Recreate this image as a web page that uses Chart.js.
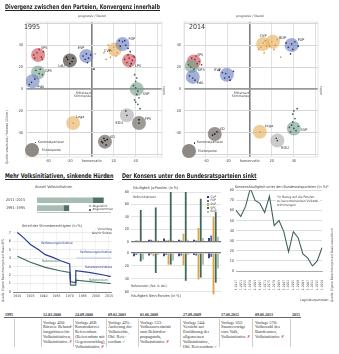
<!DOCTYPE html>
<html><head><meta charset="utf-8">
<script src="https://cdn.jsdelivr.net/npm/chart.js@4/dist/chart.umd.min.js"></script>
<style>
html,body{margin:0;padding:0;background:#fff;}
body{width:339px;height:354px;position:relative;overflow:hidden;font-family:"Liberation Sans Narrow","DejaVu Sans Condensed","Roboto Condensed",Roboto,sans-serif;color:#333;}
canvas{position:absolute;}
.t{position:absolute;white-space:nowrap;line-height:1;}
.title{font-size:6.6px;font-weight:bold;color:#222;text-decoration:underline;text-underline-offset:1px;text-decoration-thickness:0.6px;transform-origin:0 0;transform:scaleX(0.82);}
.s{font-size:3.7px;color:#444;}
.rot{transform-origin:0 0;transform:rotate(-90deg);}
.tl{position:absolute;font-family:"Liberation Serif","DejaVu Serif",serif;font-size:4.3px;line-height:4.9px;color:#333;white-space:nowrap;}
.tld{position:absolute;font-family:"Liberation Serif","DejaVu Serif",serif;font-size:4px;font-weight:bold;color:#333;white-space:nowrap;}
.vs{position:absolute;width:0.6px;background:#ccc;}
.no{color:#d42020;}
.ok{color:#3a9a3a;}
.yr{position:absolute;font-size:7px;color:#333;}
</style></head><body>

<canvas id="m1" width="165" height="162" style="left:5px;top:10px"></canvas>
<canvas id="m2" width="165" height="162" style="left:165px;top:10px"></canvas>
<canvas id="cA" width="109" height="26" style="left:6px;top:192px"></canvas>
<canvas id="cB" width="113" height="80" style="left:2px;top:224px"></canvas>
<canvas id="cC1" width="108" height="60" style="left:118px;top:186px"></canvas>
<canvas id="cC2" width="108" height="56" style="left:118px;top:244px"></canvas>
<canvas id="cD" width="110" height="118" style="left:224px;top:186px"></canvas>

<div class="t title" style="left:5px;top:4px">Divergenz zwischen den Parteien, Konvergenz innerhalb</div>
<div class="t title" style="left:5px;top:172.5px">Mehr Volksinitiativen, sinkende Hürden</div>
<div class="t title" style="left:122px;top:172.5px">Der Konsens unter den Bundesratsparteien sinkt</div>

<!-- map annotations -->
<div class="yr" style="left:24px;top:23px">1995</div>
<div class="yr" style="left:189px;top:23px">2014</div>
<div class="t s" style="left:92px;top:15px;transform:translateX(-50%);font-size:3.3px">progressiv / liberal</div>
<div class="t s" style="left:250px;top:15px;transform:translateX(-50%);font-size:3.3px">progressiv / liberal</div>
<div class="t s" style="left:74px;top:91.5px;text-align:right;font-size:3.3px;line-height:3.8px">Mittelwert<br>Stimmende</div>
<div class="t s" style="left:232px;top:91.5px;text-align:right;font-size:3.3px;line-height:3.8px">Mittelwert<br>Stimmende</div>
<div class="t s rot" style="left:163px;top:95px;font-size:3.2px">rechts</div>
<div class="t s rot" style="left:320px;top:95px;font-size:3.2px">rechts</div>
<div class="t s rot" style="left:6px;top:164px;font-size:3.3px">Quelle: smartvote / Sotomo (Zürich)</div>

<div style="position:absolute;left:25px;top:143px;width:14px;height:14px;border-radius:50%;background:#8e8985"></div>
<div style="position:absolute;left:34.5px;top:141.5px;width:1.6px;height:1.6px;border-radius:50%;background:#222"></div>
<div class="t s" style="left:38px;top:140.5px;font-size:3.4px">Kantonalparteien</div>
<div class="t s" style="left:42px;top:148.5px;font-size:3.4px">Mutterpartei</div>
<div style="position:absolute;left:182px;top:144px;width:14px;height:14px;border-radius:50%;background:#8e8985"></div>
<div style="position:absolute;left:193.5px;top:142px;width:1.6px;height:1.6px;border-radius:50%;background:#222"></div>
<div class="t s" style="left:197px;top:141px;font-size:3.4px">Kantonalparteien</div>
<div class="t s" style="left:198px;top:149.5px;font-size:3.4px">Mutterpartei</div>

<!-- chart A/B annotations -->
<div class="t s" style="left:35px;top:185.5px">Anzahl Volksinitiativen</div>
<div style="position:absolute;left:89px;top:205px;width:2.4px;height:2.4px;background:#a7bcb2"></div>
<div class="t s" style="left:92.5px;top:204.8px;font-size:3.3px">abgelehnt</div>
<div style="position:absolute;left:89px;top:208.6px;width:2.4px;height:2.4px;background:#4b7263"></div>
<div class="t s" style="left:92.5px;top:208.4px;font-size:3.3px">angenommen</div>
<div class="t s" style="left:22px;top:224.5px">Anteil der Stimmberechtigten (in %)</div>
<div class="t s" style="left:41px;top:241.5px;color:#2c3d8f;font-size:3.4px">Verfassungsinitiative</div>
<div class="t s" style="left:42px;top:260px;color:#3b6b55;font-size:3.4px">Referendum</div>
<div class="t s" style="left:92px;top:228px;text-align:right;font-size:3.3px;line-height:3.8px">Vorschlag<br>Avenir Suisse</div>
<div class="t s" style="left:80px;top:251px;color:#2c3d8f;font-size:3.4px">Verfassungsinitiative</div>
<div class="t s" style="left:85px;top:265.5px;color:#2c3d8f;font-size:3.4px">Gesetzesinitiative</div>
<div class="t s" style="left:89px;top:278.5px;color:#3b6b55;font-size:3.4px">Referendum</div>
<div class="t s rot" style="left:1.5px;top:302px;font-size:3.2px">Quelle: Eigene Berechnungen auf Basis BFS</div>

<!-- chart C annotations -->
<div class="t s" style="left:133px;top:187px">Häufigkeit Ja-Parolen (in %)</div>
<div class="t s" style="left:133px;top:195.5px;font-size:3.4px">Volksinitiativen</div>
<div class="t s" style="left:131px;top:284.5px;font-size:3.4px">Referenden (fak. &amp; obl.)</div>
<div class="t s" style="left:131px;top:294.5px">Häufigkeit Nein-Parolen (in %)</div>
<div id="legC"></div>

<!-- chart D annotations -->
<div class="t s" style="left:235px;top:186px">Konsenshäufigkeit unter den Bundesratsparteien (in %)*</div>
<div class="t s" style="left:276px;top:195.5px;background:#fff;padding:0.5px 1px;font-size:3.3px;line-height:3.8px">*in Bezug auf die Parolen<br>zu bevorstehenden Volksab-<br>stimmungen</div>
<div class="t s" style="left:300px;top:298.5px;font-size:3.4px">Legislaturperioden</div>
<div class="t s rot" style="left:331px;top:302px;font-size:3.2px">Quelle: Eigene Berechnungen auf Basis www.bfs.ch</div>

<!-- timeline -->
<div style="position:absolute;left:4px;top:317px;width:297px;height:1.4px;background:#666"></div>
<div id="tl"></div>

<script>
// ---------- DATA ----------
// Map 1995: party centres
const parties1995 = ['SPS','GPS','PdA','LdU','EVP','CVP','FDP','LPS','SVP','SD','EDU','FPS','Lega'];
const partyX1995  = [-49,-49,-54,-20,-5,21,28,34,41,12,32,43,-17];
const partyY1995  = [31,15,7,26,30,36,41,26,0,-48,-24,-31,-31];
// Map 1995: cantonal parties [party, x, y]
const cantonal1995 = [
 ['SPS',-50,33],['SPS',-46,29],['SPS',-52,28],['SPS',-44,34],['SPS',-48,36],['SPS',-53,31],['SPS',-45,27],
 ['GPS',-48,14],['GPS',-51,17],['GPS',-45,13],['GPS',-47,18],
 ['PdA',-55,6],['PdA',-52,9],['PdA',-57,4],
 ['LdU',-22,27],['LdU',-18,25],['LdU',-20,23],['LdU',-23,29],['LdU',-17,28],
 ['EVP',-5,32],['EVP',-3,28],['EVP',-8,30],['EVP',-1,31],['EVP',-4,24],['EVP',2,18],['EVP',-6,27],
 ['CVP',20,38],['CVP',18,35],['CVP',23,33],['CVP',15,40],['CVP',22,30],['CVP',11,33],['CVP',17,29],['CVP',25,38],['CVP',3,32],['CVP',13,27],
 ['FDP',28,43],['FDP',31,40],['FDP',26,39],['FDP',33,37],['FDP',30,44],['FDP',35,34],['FDP',38,30],['FDP',25,44],['FDP',36,23],
 ['LPS',34,28],['LPS',32,24],['LPS',37,26],['LPS',30,27],['LPS',35,21],['LPS',39,29],['LPS',33,31],
 ['SVP',40,1],['SVP',42,-2],['SVP',38,3],['SVP',41,-5],['SVP',43,-8],['SVP',39,-10],['SVP',40,-12],['SVP',42,-14],['SVP',44,-18],['SVP',40,7],['SVP',39,13],['SVP',41,10],
 ['SD',12,-47],['SD',10,-49],['SD',14,-46],['SD',11,-45],['SD',13,-51],['SD',9,-48],
 ['EDU',32,-24],['EDU',31,-20],['FPS',43,-31],['FPS',43,-28],['Lega',-17,-31]
];
// Map 2014
const parties2014 = ['SPS','GPS','PdA','EVP','CVP','BDP','FDP','SVP','Lega','EDU','SD'];
const partyX2014  = [-51,-53,-52,-21,12,21,38,40,9,25,-32];
const partyY2014  = [25,21,11,13,41,43,40,-36,-39,-47,-41];
const cantonal2014 = [
 ['SPS',-50,27],['SPS',-48,23],['SPS',-53,28],['SPS',-46,25],['SPS',-49,30],['SPS',-44,22],
 ['GPS',-54,20],['GPS',-51,18],['GPS',-56,22],
 ['PdA',-52,10],['PdA',-50,8],['PdA',-55,12],
 ['EVP',-22,14],['EVP',-19,11],['EVP',-25,15],['EVP',-15,16],['EVP',-18,8],['EVP',-23,10],['EVP',-28,17],
 ['CVP',12,42],['CVP',10,38],['CVP',14,44],['CVP',8,36],['CVP',15,39],['CVP',13,33],
 ['BDP',20,43],['BDP',23,40],['BDP',18,39],['BDP',25,45],['BDP',22,36],['BDP',28,29],
 ['FDP',38,41],['FDP',35,38],['FDP',41,43],['FDP',39,36],['FDP',44,39],['FDP',33,42],['FDP',37,32],
 ['SVP',40,-36],['SVP',38,-33],['SVP',42,-38],['SVP',36,-35],['SVP',44,-34],['SVP',39,-30],['SVP',41,-27],['SVP',39,-23],['SVP',40,-20],['SVP',43,-18],['SVP',37,-39],
 ['Lega',9,-39],['EDU',25,-47],['EDU',24,-45],['SD',-32,-41],['SD',-30,-39],['SD',-34,-42]
];
// Chart A: Anzahl Volksinitiativen
const periodsA = ['2011–2015','1991–1995'];
const abgelehnt = [21,10];
const angenommen = [4,2];
// Chart B: Anteil der Stimmberechtigten (in %) [Jahr, %]
const verfassungsinitiative = [[1910,7.0],[1917,6.4],[1925,5.6],[1934,5.0],[1942,4.4],[1950,4.1],[1959,3.7],[1970,3.3],[1971,1.2],[1977,1.1],[1977,2.5],[1992,2.3],[2009,2.0],[2017,1.8]];
const referendum = [[1910,4.2],[1925,3.5],[1942,2.9],[1959,2.5],[1970,2.3],[1971,0.8],[1977,0.8],[1977,1.4],[2000,1.15],[2017,1.0]];
const avenirSuisse = [[1978,4.0],[2018,4.0]];
const yearTicksB = [1910,1925,1940,1955,1970,1985,2000,2015];
// Chart C: Ja-/Nein-Parolen
const decadesC = [['1960–','1969'],['1970–','1979'],['1980–','1989'],['1990–','1999'],['2000–','2009'],['seit','2010']];
const seriesC = ['CVP','FDP','SVP','SPS','BDP'];
const jaVolksinitiativen = {CVP:[1,3,5,3,3,6], FDP:[2,3,2,2,2,10], SVP:[2,2,3,13,22,40], SPS:[51,55,86,84,69,48], BDP:[1,2,2,3,6,8]};
const neinReferenden = {CVP:[5,4,5,5,3,8], FDP:[3,2,3,4,4,6], SVP:[2,5,18,19,41,64], SPS:[13,31,18,43,38,46], BDP:[10,3,12,3,18,24]};
// Chart D: Konsenshäufigkeit
const legislatur = [32,33,34,35,36,37,38,39,40,41,42,43,44,45,46,47,48,49,50];
const legislaturJahre = ['1943–1947','1947–1951','1951–1955','1955–1959','1959–1963','1963–1967','1967–1971','1971–1975','1975–1979','1979–1983','1983–1987','1987–1991','1991–1995','1995–1999','1999–2003','2003–2007','2007–2011','2011–2015','2015–2019'];
const konsens = [60,54,64,82,70,67,58,74,45,50,39,19,39,33,17,13,5,10,23];
// Timeline
const tlDates = ['12.03.2000','24.09.2000','09.02.2003','01.06.2008','27.09.2009','17.06.2012','09.06.2013'];
const tlTexts = [
 'Vorlage 460:<br>Kürzere Behand-<br>lungsfristen für<br>Volksinitiativen,<br>Volksinitiative <span class="no">✗</span>',
 'Vorlage 468:<br>Konstruktives<br>Referendum<br>(Referendum mit<br>Gegenvorschlag),<br>Volksinitiative <span class="no">✗</span>',
 'Vorlage 495:<br>Änderung der<br>Volksrechte,<br>Obl. Refe-<br>rendum <span class="ok">✓</span>',
 'Vorlage 533:<br>Volkssouveränität<br>statt Behörden-<br>propaganda,<br>Volksinitiative <span class="no">✗</span>',
 'Vorlage 544:<br>Verzicht auf<br>Einführung der<br>allgemeinen<br>Volksinitiative,<br>Obl. Referendum <span class="ok">✓</span>',
 'Vorlage 562:<br>Staatsverträge<br>vors Volk,<br>Volksinitiative <span class="no">✗</span>',
 'Vorlage 570:<br>Volkswahl des<br>Bundesrates,<br>Volksinitiative <span class="no">✗</span>'
];

// ---------- STYLE ----------
const FONT='"Liberation Sans Narrow","DejaVu Sans Condensed","Roboto Condensed",Roboto,sans-serif';
Chart.defaults.font.family=FONT;
Chart.defaults.animation=false;
Chart.defaults.responsive=false;
Chart.defaults.plugins.legend.display=false;
Chart.defaults.plugins.tooltip.enabled=false;
const BUBBLE={SPS:'rgba(200,80,84,0.62)',GPS:'rgba(120,158,140,0.62)',PdA:'rgba(110,128,190,0.62)',LdU:'rgba(95,88,82,0.78)',EVP:'rgba(110,128,190,0.62)',
 CVP:'rgba(230,176,96,0.62)',FDP:'rgba(110,128,190,0.62)',LPS:'rgba(200,80,84,0.62)',SVP:'rgba(120,158,140,0.62)',SD:'rgba(120,114,110,0.75)',
 EDU:'rgba(185,185,185,0.75)',FPS:'rgba(130,125,121,0.78)',Lega:'rgba(230,176,96,0.62)',BDP:'rgba(230,176,96,0.62)'};
const DOT={SPS:'#b02429',GPS:'#355f4e',PdA:'#25388a',LdU:'#1e1e1e',EVP:'#25388a',CVP:'#dc9a2c',FDP:'#25388a',LPS:'#b02429',SVP:'#355f4e',
 SD:'#1e1e1e',EDU:'#444',FPS:'#1e1e1e',Lega:'#dc9a2c',BDP:'#dc9a2c'};
const COLC={CVP:'#283670',FDP:'#5568aa',SVP:'#d9a445',SPS:'#3f6a5b',BDP:'#a9c0b5'};
const tickFont={size:3.8,family:FONT};

const labelPlugin={
  id:'partyLabels',
  afterDatasetsDraw(chart,args,opts){
    const items=opts.items||[]; const {ctx,scales:{x,y}}=chart;
    ctx.save(); ctx.font='3.8px '+FONT; ctx.fillStyle='#333'; ctx.textBaseline='middle';
    items.forEach(it=>{ctx.textAlign=it.a; ctx.fillText(it.t,x.getPixelForValue(it.x)+it.dx,y.getPixelForValue(it.y)+it.dy);});
    ctx.restore();
  }
};
const framePlugin={
  id:'frame',
  beforeDatasetsDraw(chart){
    const {ctx,chartArea:a}=chart; ctx.save(); ctx.strokeStyle='#e0e0e0'; ctx.lineWidth=0.8;
    ctx.strokeRect(a.left,a.top,a.right-a.left,a.bottom-a.top); ctx.restore();
  }
};

function mapChart(id,names,xs,ys,dots,offs,padRight,yW,xMax){
  const items=names.map((n,i)=>({t:n,x:xs[i],y:ys[i],dx:offs[i][0],dy:offs[i][1],a:offs[i][2]}));
  new Chart(document.getElementById(id),{
    type:'scatter',
    data:{datasets:[
      {data:dots.map(d=>({x:d[1],y:d[2]})),pointRadius:0.85,pointBackgroundColor:dots.map(d=>DOT[d[0]]),pointBorderWidth:0},
      {data:names.map((n,i)=>({x:xs[i],y:ys[i]})),pointRadius:7,pointBackgroundColor:names.map(n=>BUBBLE[n]),pointBorderWidth:0}
    ]},
    options:{
      layout:{padding:{left:0,right:padRight,top:12,bottom:7}},
      scales:{
        x:{type:'linear',min:-60,max:xMax,
           afterBuildTicks:s=>{s.ticks=[-60,-40,-20,0,20,40,60].map(v=>({value:v}));},
           ticks:{font:tickFont,color:'#444',padding:2,maxRotation:0,autoSkip:false,
             callback:v=>v===0?'konservativ':(Math.abs(v)>=60?'':String(v))},
           grid:{drawTicks:false,color:c=>c.tick&&c.tick.value===0?'#7d7d7d':'#dedede',lineWidth:c=>c.tick&&c.tick.value===0?1.6:0.9},
           border:{display:false},afterFit:s=>{s.height=8;}},
        y:{type:'linear',min:-62,max:61,
           afterBuildTicks:s=>{s.ticks=[-60,-40,-20,0,20,40,60].map(v=>({value:v}));},
           ticks:{font:tickFont,color:'#444',padding:3,autoSkip:false,
             callback:v=>Math.abs(v)>=60?'':String(v)},
           grid:{drawTicks:false,color:c=>c.tick&&c.tick.value===0?'#9a9a9a':'#d6d6d6',lineWidth:c=>c.tick&&c.tick.value===0?1.8:1},
           border:{display:false},afterFit:s=>{s.width=yW;}}
      },
      plugins:{partyLabels:{items}}
    },
    plugins:[framePlugin,labelPlugin]
  });
}
const offs1995=[[3,-7,'left'],[7,-1,'left'],[5,6,'left'],[-5,6,'right'],[-2,-8,'right'],[-4,2,'right'],[6,-5,'left'],[6,6,'left'],[6,5,'left'],[5,-5,'left'],[-4,8,'right'],[6,-4,'left'],[3,-6,'left']];
const offs2014=[[3,-7,'left'],[6,4,'left'],[4,6,'left'],[-6,-5,'right'],[0,-8,'center'],[6,-4,'left'],[6,-5,'left'],[7,2,'left'],[5,-6,'left'],[4,7,'left'],[5,-5,'left']];
mapChart('m1',parties1995,partyX1995,partyY1995,cantonal1995,offs1995,8,21,64);
mapChart('m2',parties2014,partyX2014,partyY2014,cantonal2014,offs2014,12,19,62);

// Chart A
new Chart(document.getElementById('cA'),{
  type:'bar',
  data:{labels:periodsA,datasets:[
    {data:abgelehnt,backgroundColor:'#a7bcb2',barThickness:5},
    {data:angenommen,backgroundColor:'#4b7263',barThickness:5}]},
  options:{indexAxis:'y',layout:{padding:{top:2,right:5,bottom:0,left:0}},
    scales:{
      x:{stacked:true,min:0,max:27.5,afterBuildTicks:s=>{s.ticks=[0,10,20].map(v=>({value:v}));},
         ticks:{font:tickFont,color:'#444',padding:1},grid:{display:false},border:{color:'#999',width:0.6},afterFit:s=>{s.height=6;}},
      y:{stacked:true,ticks:{font:tickFont,color:'#444',crossAlign:'far',padding:2},grid:{display:false},border:{display:false},afterFit:s=>{s.width=31;}}
    }}
});

// Chart B
new Chart(document.getElementById('cB'),{
  type:'line',
  data:{datasets:[
    {data:verfassungsinitiative.map(p=>({x:p[0],y:p[1]})),borderColor:'#2c3d8f',borderWidth:1.2,pointRadius:0,tension:0},
    {data:referendum.map(p=>({x:p[0],y:p[1]})),borderColor:'#3b6b55',borderWidth:1.2,pointRadius:0,tension:0},
    {data:avenirSuisse.map(p=>({x:p[0],y:p[1]})),borderColor:'#9fb0dc',borderWidth:0.7,pointRadius:0}
  ]},
  options:{layout:{padding:{top:2,right:2,bottom:3,left:0}},
    scales:{
      x:{type:'linear',min:1905,max:2018,afterBuildTicks:s=>{s.ticks=yearTicksB.map(v=>({value:v}));},
         ticks:{font:{size:3.5,family:FONT},color:'#444',padding:2,maxRotation:0,autoSkip:false,callback:v=>String(v)},
         grid:{drawTicks:false,color:'#ececec',lineWidth:0.6},border:{color:'#666',width:0.8},afterFit:s=>{s.height=9;}},
      y:{min:0,max:7.5,afterBuildTicks:s=>{s.ticks=[0,1,2,3,4,5,6,7].map(v=>({value:v}));},
         ticks:{font:tickFont,color:'#444',padding:2},
         grid:{drawTicks:false,color:'#e2e2e2',lineWidth:0.7},border:{display:false},afterFit:s=>{s.width=11;}}
    }}
});

// Chart C
function barSets(obj){return seriesC.map(n=>({label:n,data:obj[n],backgroundColor:COLC[n],barPercentage:0.8,categoryPercentage:0.75}));}
new Chart(document.getElementById('cC1'),{
  type:'bar',
  data:{labels:decadesC,datasets:barSets(jaVolksinitiativen)},
  options:{layout:{padding:{top:6,right:5,bottom:2,left:0}},
    scales:{
      x:{display:false},
      y:{min:0,max:80,ticks:{stepSize:20,font:tickFont,color:'#444',padding:2},
         grid:{drawTicks:false,color:c=>c.tick&&c.tick.value===0?'#777':'#dcdcdc',lineWidth:c=>c.tick&&c.tick.value===0?1.2:0.8},
         border:{display:false},afterFit:s=>{s.width=13;}}
    }}
});
new Chart(document.getElementById('cC2'),{
  type:'bar',
  data:{labels:decadesC,datasets:barSets(neinReferenden)},
  options:{layout:{padding:{top:0,right:5,bottom:5,left:0}},
    scales:{
      x:{position:'top',ticks:{font:{size:3.3,family:FONT,lineHeight:1.05},color:'#444',padding:0.5,maxRotation:0,autoSkip:false},
         grid:{display:false},border:{display:false},afterFit:s=>{s.height=9;}},
      y:{reverse:true,min:0,max:65,afterBuildTicks:s=>{s.ticks=[0,20,40,60].map(v=>({value:v}));},
         ticks:{font:tickFont,color:'#444',padding:2},
         grid:{drawTicks:false,color:c=>c.tick&&c.tick.value===0?'#777':'#dcdcdc',lineWidth:c=>c.tick&&c.tick.value===0?1.2:0.8},
         border:{display:false},afterFit:s=>{s.width=13;}}
    }}
});
const leg=document.getElementById('legC');
seriesC.forEach((n,i)=>{
  leg.insertAdjacentHTML('beforeend',`<div style="position:absolute;left:207px;top:${196+i*3.7}px;width:2.3px;height:2.3px;background:${COLC[n]}"></div><div class="t s" style="left:210.5px;top:${195.6+i*3.7}px;font-size:3.2px">${n}</div>`);
});

// Chart D
new Chart(document.getElementById('cD'),{
  type:'line',
  data:{labels:legislaturJahre,datasets:[
    {data:konsens,borderColor:'#3f6557',borderWidth:1.1,pointRadius:0,tension:0,xAxisID:'x'}]},
  options:{layout:{padding:{top:4,right:12,bottom:8,left:0}},
    scales:{
      x:{type:'category',offset:false,weight:0,ticks:{font:{size:3.2,family:FONT},color:'#444',minRotation:90,maxRotation:90,autoSkip:false,padding:1},
         grid:{display:false},border:{color:'#888',width:0.6},afterFit:s=>{s.height=19;}},
      x2:{type:'category',position:'bottom',offset:false,weight:1,labels:legislatur.map(String),
         ticks:{font:{size:3.4,family:FONT},color:'#444',maxRotation:0,autoSkip:false,padding:0},
         grid:{display:false},border:{display:false},afterFit:s=>{s.height=6;}},
      y:{min:0,max:80,ticks:{stepSize:10,font:tickFont,color:'#444',padding:2},
         grid:{drawTicks:false,color:'#dcdcdc',lineWidth:1},border:{display:false},afterFit:s=>{s.width=12;}}
    }}
});

// Timeline
const tlX=[43,75,108,140,183,221,255];
const tlSep=[14,41,73,106,138,180,219,252,290];
const tl=document.getElementById('tl');
tl.insertAdjacentHTML('beforeend','<div class="tld" style="left:5px;top:311.5px">1995</div><div class="tld" style="left:292px;top:311.5px">2015</div>');
tlSep.forEach(x=>tl.insertAdjacentHTML('beforeend',`<div class="vs" style="left:${x}px;top:319px;height:28px"></div>`));
tlDates.forEach((d,i)=>{
  tl.insertAdjacentHTML('beforeend',`<div class="tld" style="left:${tlX[i]}px;top:311.5px">${d}</div><div class="tl" style="left:${tlX[i]}px;top:320.5px">${tlTexts[i]}</div>`);
});
</script>
</body></html>
